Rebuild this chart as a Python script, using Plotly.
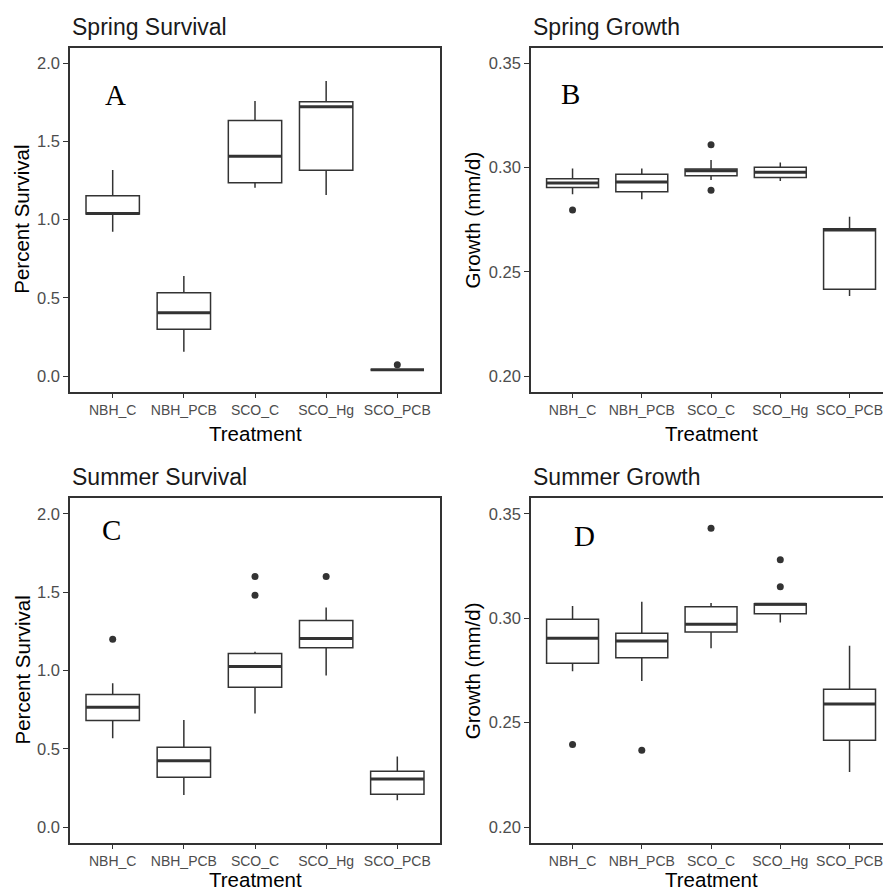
import plotly.graph_objects as go

# ---------------- data ----------------
categories = ["NBH_C", "NBH_PCB", "SCO_C", "SCO_Hg", "SCO_PCB"]

# Spring survival (panel A)
spring_surv_low = [0.923, 0.156, 1.205, 1.158, 0.040]
spring_surv_q1 = [1.036, 0.299, 1.237, 1.316, 0.040]
spring_surv_med = [1.040, 0.405, 1.405, 1.723, 0.040]
spring_surv_q3 = [1.153, 0.533, 1.635, 1.755, 0.040]
spring_surv_high = [1.318, 0.640, 1.759, 1.887, 0.040]
spring_surv_out_cat = ["SCO_PCB"]
spring_surv_out_val = [0.072]

# Spring growth (panel B)
spring_grow_low = [0.2872, 0.2848, 0.2940, 0.2936, 0.2384]
spring_grow_q1 = [0.2905, 0.2884, 0.2961, 0.2953, 0.2416]
spring_grow_med = [0.2926, 0.2931, 0.2985, 0.2977, 0.2700]
spring_grow_q3 = [0.2947, 0.2968, 0.2993, 0.3001, 0.2707]
spring_grow_high = [0.2996, 0.2996, 0.3036, 0.3024, 0.2764]
spring_grow_out_cat = ["NBH_C", "SCO_C", "SCO_C"]
spring_grow_out_val = [0.2796, 0.3110, 0.2891]

# Summer survival (panel C)
summer_surv_low = [0.567, 0.205, 0.725, 0.968, 0.171]
summer_surv_q1 = [0.680, 0.318, 0.893, 1.145, 0.209]
summer_surv_med = [0.765, 0.424, 1.026, 1.205, 0.307]
summer_surv_q3 = [0.846, 0.510, 1.109, 1.320, 0.356]
summer_surv_high = [0.919, 0.684, 1.119, 1.403, 0.450]
summer_surv_out_cat = ["NBH_C", "SCO_C", "SCO_C", "SCO_Hg"]
summer_surv_out_val = [1.200, 1.601, 1.480, 1.601]

# Summer growth (panel D)
summer_grow_low = [0.2747, 0.2700, 0.2857, 0.2980, 0.2264]
summer_grow_q1 = [0.2785, 0.2811, 0.2934, 0.3022, 0.2416]
summer_grow_med = [0.2904, 0.2891, 0.2971, 0.3067, 0.2590]
summer_grow_q3 = [0.2995, 0.2928, 0.3055, 0.3070, 0.2660]
summer_grow_high = [0.3059, 0.3079, 0.3073, 0.3070, 0.2868]
summer_grow_out_cat = ["NBH_C", "NBH_PCB", "SCO_C", "SCO_Hg", "SCO_Hg"]
summer_grow_out_val = [0.2395, 0.2368, 0.3431, 0.3281, 0.3151]

surv_ticks = [0.0, 0.5, 1.0, 1.5, 2.0]
surv_ticktext = ["0.0", "0.5", "1.0", "1.5", "2.0"]
grow_ticks = [0.20, 0.25, 0.30, 0.35]
grow_ticktext = ["0.20", "0.25", "0.30", "0.35"]

# ---------------- figure ----------------
W, H = 883, 892
pos = {c: i + 1 for i, c in enumerate(categories)}
xpos = [pos[c] for c in categories]
BOXW = 0.75
DARK = "#333333"

fig = go.Figure()

panels = [
    dict(ax="", low=spring_surv_low, q1=spring_surv_q1, med=spring_surv_med, q3=spring_surv_q3,
         high=spring_surv_high, oc=spring_surv_out_cat, ov=spring_surv_out_val),
    dict(ax="2", low=spring_grow_low, q1=spring_grow_q1, med=spring_grow_med, q3=spring_grow_q3,
         high=spring_grow_high, oc=spring_grow_out_cat, ov=spring_grow_out_val),
    dict(ax="3", low=summer_surv_low, q1=summer_surv_q1, med=summer_surv_med, q3=summer_surv_q3,
         high=summer_surv_high, oc=summer_surv_out_cat, ov=summer_surv_out_val),
    dict(ax="4", low=summer_grow_low, q1=summer_grow_q1, med=summer_grow_med, q3=summer_grow_q3,
         high=summer_grow_high, oc=summer_grow_out_cat, ov=summer_grow_out_val),
]

for p in panels:
    xa, ya = "x" + p["ax"], "y" + p["ax"]
    fig.add_trace(go.Box(
        x=xpos, q1=p["q1"], median=p["med"], q3=p["q3"],
        lowerfence=p["low"], upperfence=p["high"],
        width=BOXW, whiskerwidth=0, boxpoints=False,
        fillcolor="white", line=dict(color=DARK, width=1.5),
        xaxis=xa, yaxis=ya, showlegend=False, hoverinfo="skip",
    ))
    # thicker median lines (ggplot style)
    mx, my = [], []
    for x, m in zip(xpos, p["med"]):
        mx += [x - BOXW / 2, x + BOXW / 2, None]
        my += [m, m, None]
    fig.add_trace(go.Scatter(
        x=mx, y=my, mode="lines", line=dict(color=DARK, width=3),
        xaxis=xa, yaxis=ya, showlegend=False, hoverinfo="skip",
    ))
    fig.add_trace(go.Scatter(
        x=[pos[c] for c in p["oc"]], y=p["ov"], mode="markers",
        marker=dict(color=DARK, size=7),
        xaxis=xa, yaxis=ya, showlegend=False, hoverinfo="skip",
    ))


def px_x(v):
    return v / W


def px_y(v):
    return 1 - v / H


tickfont_y = dict(family="Liberation Sans, Arial, sans-serif", size=16.5, color="#4d4d4d")
tickfont_x = dict(family="Liberation Sans, Arial, sans-serif", size=14, color="#4d4d4d")

common_x = dict(tickmode="array", tickvals=xpos, ticktext=categories, ticks="outside",
                ticklen=5, tickwidth=1.2, tickcolor=DARK, showline=True, linecolor=DARK,
                linewidth=1.5, showgrid=False, zeroline=False, tickfont=tickfont_x,
                tickangle=0, ticklabeloverflow="allow", automargin=False, fixedrange=True)
common_y = dict(ticks="outside", ticklen=5, tickwidth=1.2, tickcolor=DARK, showline=True,
                linecolor=DARK, linewidth=1.5, showgrid=False, zeroline=False,
                tickfont=tickfont_y, tickmode="array", automargin=False, fixedrange=True)

# panel geometry (pixels)
top_rows = (47.7, 391.7)
bot_rows = (498.3, 842.7)
left_cols = (70, 440)
right_cols = (531, 883)
right_xmax = 0.4 + (883 - 531) / 69.25

layout_axes = {}
specs = [
    ("", left_cols, top_rows, [0.4, 5.6], [-0.1, 2.1], surv_ticks, surv_ticktext, True),
    ("2", right_cols, top_rows, [0.4, right_xmax], [0.1925, 0.3575], grow_ticks, grow_ticktext, False),
    ("3", left_cols, bot_rows, [0.4, 5.6], [-0.1, 2.1], surv_ticks, surv_ticktext, True),
    ("4", right_cols, bot_rows, [0.4, right_xmax], [0.1925, 0.3575], grow_ticks, grow_ticktext, False),
]
for ax, cols, rows, xr, yr, tv, tt, mirror_y in specs:
    xk = "xaxis" + ax
    yk = "yaxis" + ax
    layout_axes[xk] = dict(common_x, domain=[px_x(cols[0]), px_x(cols[1])], range=xr,
                           anchor="y" + ax, mirror=True)
    layout_axes[yk] = dict(common_y, domain=[px_y(rows[1]), px_y(rows[0])], range=yr,
                           anchor="x" + ax, mirror=mirror_y, tickvals=tv, ticktext=tt)

fig.update_layout(**layout_axes)

title_font = dict(family="Liberation Sans, Arial, sans-serif", size=23, color="#1a1a1a")
axis_font = dict(family="Liberation Sans, Arial, sans-serif", size=20.5, color="#000000")
letter_font = dict(family="Liberation Serif, Times New Roman, serif", size=29, color="#000000")

ann = []
# panel titles
for text, x, y in [("Spring Survival", 70, 27), ("Spring Growth", 531, 27),
                   ("Summer Survival", 70, 476.5), ("Summer Growth", 531, 476.5)]:
    ann.append(dict(text=text, x=px_x(x), y=px_y(y), xref="paper", yref="paper",
                    xanchor="left", yanchor="middle", showarrow=False, font=title_font))
# y axis titles
for text, x, y in [("Percent Survival", 22, 219.7), ("Growth (mm/d)", 472.7, 219.7),
                   ("Percent Survival", 22, 670.5), ("Growth (mm/d)", 472.7, 670.5)]:
    ann.append(dict(text=text, x=px_x(x), y=px_y(y), xref="paper", yref="paper",
                    xanchor="center", yanchor="middle", textangle=-90, showarrow=False,
                    font=axis_font))
# x axis titles
for x, y in [(255, 433), (711, 433), (255, 879.5), (711, 879.5)]:
    ann.append(dict(text="Treatment", x=px_x(x), y=px_y(y), xref="paper", yref="paper",
                    xanchor="center", yanchor="middle", showarrow=False, font=axis_font))
# panel letters
for text, x, y in [("A", 115.7, 95), ("B", 570, 94), ("C", 111.7, 530), ("D", 584.3, 536)]:
    ann.append(dict(text=text, x=px_x(x), y=px_y(y), xref="paper", yref="paper",
                    xanchor="center", yanchor="middle", showarrow=False, font=letter_font))

fig.update_layout(
    width=W, height=H, margin=dict(l=0, r=0, t=0, b=0, autoexpand=False),
    paper_bgcolor="white", plot_bgcolor="white",
    annotations=ann, showlegend=False,
)

fig.write_html(
    "out.html",
    config={"displayModeBar": False},
    post_script="document.body.style.margin='0';document.body.style.padding='0';"
                "document.body.style.overflow='hidden';",
)
